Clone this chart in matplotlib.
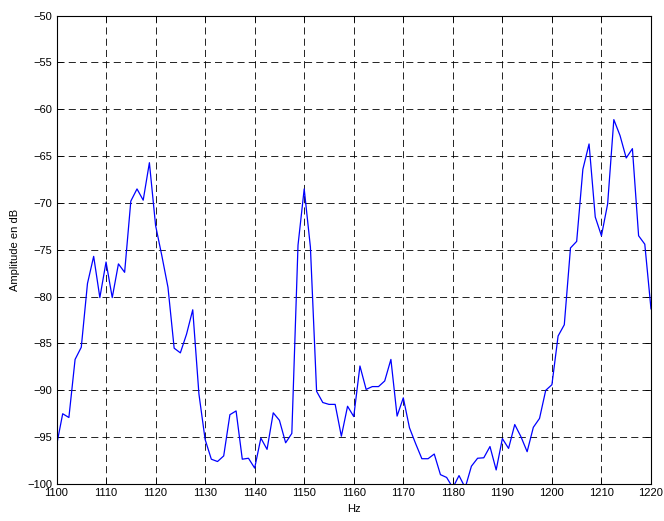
import numpy as np
import matplotlib
matplotlib.use("Agg")
import matplotlib.pyplot as plt

# spectrum bins: start frequency and bin width (Hz), amplitudes in dB
f_start = 1100.0
f_step = 1.25
amp_db = [
    -95.9, -92.5, -92.9, -86.7, -85.4, -78.6, -75.7, -80.1, -76.3, -80.1,
    -76.5, -77.4, -69.8, -68.5, -69.7, -65.7, -72.4, -75.6, -79.0, -85.5,
    -86.0, -84.0, -81.4, -90.4, -95.25, -97.35, -97.6, -97.0, -92.6, -92.2,
    -97.35, -97.25, -98.3, -95.1, -96.3, -92.4, -93.2, -95.6, -94.6, -74.5,
    -68.5, -74.7, -90.1, -91.3, -91.5, -91.5, -94.9, -91.7, -92.8, -87.4,
    -89.9, -89.6, -89.6, -89.0, -86.7, -92.75, -90.8, -94.0, -95.7, -97.3,
    -97.3, -96.8, -99.0, -99.3, -100.4, -99.1, -100.4, -98.1, -97.25, -97.2,
    -96.0, -98.5, -95.15, -96.2, -93.65, -94.95, -96.55, -93.95, -93.0, -90.0,
    -89.4, -84.2, -83.0, -74.8, -74.1, -66.4, -63.7, -71.5, -73.5, -70.1,
    -61.1, -62.8, -65.2, -64.2, -73.5, -74.4, -81.3,
]

freq = f_start + f_step * np.arange(len(amp_db))

xticks = list(range(1100, 1221, 10))
yticks = list(range(-100, -49, 5))

plt.rcParams['font.family'] = ['Liberation Sans', 'DejaVu Sans']

fig = plt.figure(figsize=(6.64, 5.21), dpi=100, facecolor='white')
ax = fig.add_axes([0.0851, 0.0710, 0.8953, 0.8990])

ax.plot(freq, amp_db, color='#0000ff', linewidth=0.9)

ax.set_xlim(1100, 1220)
ax.set_ylim(-100, -50)
ax.set_xticks(xticks)
ax.set_yticks(yticks)
ax.tick_params(direction='in', top=True, right=True, labelsize=8,
               length=4, width=0.6, pad=3)
# MATLAB-like dashed grid
ax.grid(True, color='black', linestyle=(0, (8.5, 5)), linewidth=0.6)
for s in ax.spines.values():
    s.set_linewidth(0.8)

ax.set_xlabel('Hz', fontsize=8, labelpad=4)
ax.set_ylabel('Amplitude en dB', fontsize=8, labelpad=5)

fig.savefig('out.png', dpi=100)
